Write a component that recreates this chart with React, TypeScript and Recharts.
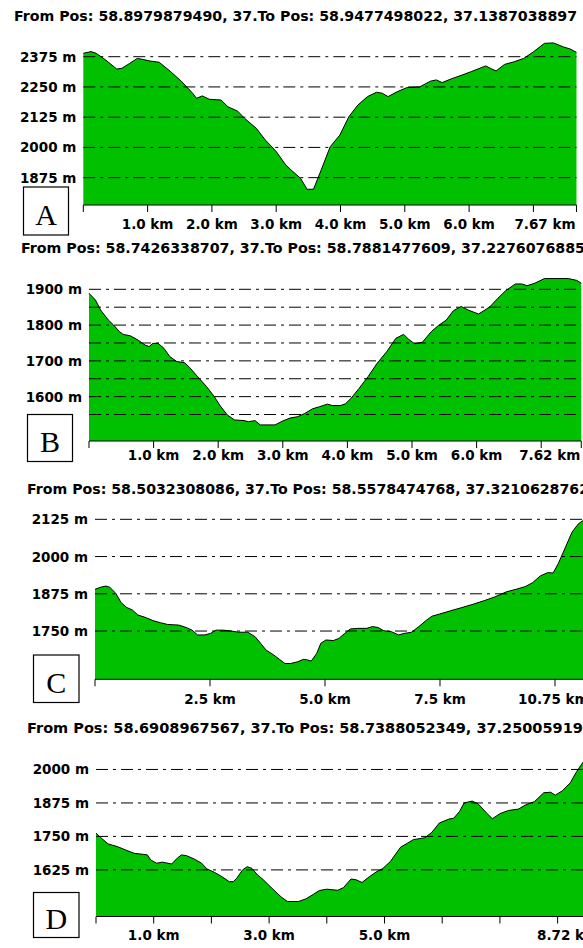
import { AreaChart, Area, XAxis, YAxis, ReferenceLine } from 'recharts';

const FONT = '"DejaVu Sans", Verdana, sans-serif';
const GREEN = '#00c000';
const DASH = '12 5 3 5';
const CHART_W = 640;

// Profile A
const kmA = [0, 0.12, 0.2, 0.35, 0.52, 0.6, 0.72, 0.84, 0.92, 1.04, 1.18, 1.36, 1.53, 1.7, 1.76, 1.85, 1.96, 2.14, 2.25, 2.4, 2.51, 2.69, 2.83, 3.0, 3.15, 3.26, 3.38, 3.48, 3.58, 3.7, 3.84, 3.99, 4.13, 4.27, 4.42, 4.56, 4.65, 4.74, 4.88, 5.03, 5.23, 5.4, 5.49, 5.58, 5.72, 5.89, 6.04, 6.26, 6.33, 6.42, 6.55, 6.7, 6.85, 7.0, 7.17, 7.31, 7.47, 7.57, 7.67];
const elevA = [2389, 2396, 2389, 2361, 2324, 2327, 2347, 2368, 2364, 2357, 2352, 2313, 2272, 2224, 2203, 2213, 2199, 2196, 2168, 2150, 2120, 2079, 2031, 1983, 1927, 1900, 1872, 1827, 1827, 1907, 2003, 2051, 2127, 2175, 2210, 2228, 2224, 2210, 2230, 2247, 2250, 2274, 2279, 2268, 2283, 2299, 2314, 2337, 2327, 2316, 2343, 2354, 2368, 2395, 2430, 2432, 2415, 2407, 2393];

// Profile B
const kmB = [0, 0.1, 0.18, 0.3, 0.38, 0.47, 0.53, 0.64, 0.76, 0.87, 0.93, 0.99, 1.07, 1.16, 1.25, 1.36, 1.48, 1.56, 1.68, 1.82, 1.94, 2.02, 2.14, 2.25, 2.4, 2.47, 2.57, 2.65, 2.88, 3.0, 3.11, 3.23, 3.34, 3.46, 3.57, 3.69, 3.77, 3.89, 3.97, 4.06, 4.18, 4.32, 4.46, 4.61, 4.75, 4.87, 4.95, 5.04, 5.16, 5.3, 5.41, 5.53, 5.64, 5.76, 5.87, 6.03, 6.13, 6.21, 6.33, 6.45, 6.6, 6.7, 6.78, 6.9, 7.05, 7.42, 7.55, 7.62];
const elevB = [1889, 1870, 1842, 1814, 1800, 1782, 1774, 1770, 1758, 1744, 1740, 1749, 1749, 1735, 1712, 1698, 1695, 1681, 1656, 1628, 1600, 1577, 1549, 1535, 1533, 1530, 1533, 1521, 1521, 1532, 1540, 1544, 1553, 1566, 1572, 1579, 1575, 1575, 1580, 1596, 1623, 1656, 1693, 1726, 1763, 1774, 1760, 1748, 1752, 1782, 1799, 1814, 1840, 1852, 1842, 1831, 1842, 1852, 1875, 1896, 1915, 1915, 1910, 1917, 1930, 1930, 1925, 1917];

// Profile C
const kmC = [0, 0.12, 0.24, 0.32, 0.45, 0.57, 0.69, 0.81, 0.93, 1.09, 1.26, 1.42, 1.58, 1.82, 1.98, 2.11, 2.23, 2.39, 2.51, 2.63, 2.79, 2.96, 3.12, 3.32, 3.48, 3.6, 3.72, 3.89, 4.01, 4.13, 4.25, 4.41, 4.53, 4.62, 4.7, 4.82, 4.91, 5.02, 5.18, 5.3, 5.43, 5.55, 5.71, 5.91, 6.03, 6.15, 6.28, 6.44, 6.6, 6.72, 6.88, 7.04, 7.21, 7.33, 7.49, 7.73, 7.98, 8.22, 8.46, 8.7, 8.95, 9.15, 9.35, 9.51, 9.68, 9.84, 9.96, 10.07, 10.23, 10.37, 10.51, 10.6, 10.75];
const elevC = [1890, 1897, 1901, 1897, 1877, 1845, 1829, 1821, 1804, 1796, 1785, 1778, 1772, 1770, 1762, 1753, 1737, 1737, 1742, 1753, 1753, 1750, 1746, 1746, 1731, 1709, 1686, 1669, 1655, 1641, 1641, 1647, 1655, 1653, 1649, 1675, 1709, 1720, 1718, 1725, 1742, 1757, 1759, 1759, 1765, 1762, 1751, 1748, 1737, 1742, 1746, 1765, 1787, 1800, 1807, 1818, 1829, 1840, 1852, 1865, 1882, 1890, 1899, 1912, 1935, 1946, 1945, 1976, 2032, 2082, 2110, 2120, 2130];

// Profile D
const kmD = [0, 0.08, 0.21, 0.37, 0.53, 0.66, 0.82, 0.89, 0.95, 1.05, 1.15, 1.31, 1.41, 1.48, 1.57, 1.7, 1.83, 1.92, 2.05, 2.18, 2.31, 2.38, 2.44, 2.54, 2.62, 2.7, 2.8, 2.9, 2.99, 3.12, 3.22, 3.32, 3.51, 3.64, 3.77, 3.87, 4.0, 4.19, 4.29, 4.42, 4.51, 4.61, 4.74, 4.87, 4.97, 5.1, 5.28, 5.4, 5.5, 5.7, 5.82, 5.95, 6.12, 6.2, 6.3, 6.38, 6.52, 6.62, 6.78, 6.87, 7.0, 7.15, 7.32, 7.45, 7.6, 7.76, 7.88, 7.96, 8.08, 8.22, 8.33, 8.45, 8.58, 8.72];
const elevD = [1762, 1746, 1722, 1712, 1698, 1687, 1683, 1681, 1662, 1650, 1654, 1647, 1669, 1681, 1678, 1666, 1650, 1629, 1616, 1600, 1581, 1581, 1594, 1625, 1637, 1631, 1606, 1588, 1569, 1542, 1522, 1507, 1507, 1517, 1534, 1548, 1553, 1549, 1559, 1591, 1588, 1578, 1600, 1619, 1630, 1656, 1710, 1725, 1738, 1745, 1765, 1800, 1815, 1818, 1843, 1875, 1882, 1872, 1835, 1816, 1835, 1847, 1852, 1868, 1880, 1913, 1915, 1904, 1920, 1950, 1992, 2030, 2055, 2075];

// axis ticks and labels
const yTicksA = [1875, 2000, 2125, 2250, 2375];
const yTicksB = [1600, 1700, 1800, 1900];
const gridB = [1550, 1600, 1650, 1700, 1750, 1800, 1850, 1900];
const yTicksC = [1750, 1875, 2000, 2125];
const yTicksD = [1625, 1750, 1875, 2000];
const xTicksA = [0, 1, 2, 3, 4, 5, 6, 7, 7.67];
const xTicksB = [0, 1, 2, 3, 4, 5, 6, 7, 7.62];
const xTicksC = [0, 2.5, 5, 7.5, 10, 10.75];
const xTicksD = [0, 1, 2, 3, 4, 5, 6, 7, 8, 8.72];
const xLabelsA = [1, 2, 3, 4, 5, 6];
const xLabelsB = [1, 2, 3, 4, 5, 6];
const xLabelsC = [2.5, 5, 7.5];
const xLabelsD = [1, 3, 5];

const titles = [
  'From Pos: 58.8979879490, 37.To Pos: 58.9477498022, 37.1387038897',
  'From Pos: 58.7426338707, 37.To Pos: 58.7881477609, 37.2276076885',
  'From Pos: 58.5032308086, 37.To Pos: 58.5578474768, 37.3210628762',
  'From Pos: 58.6908967567, 37.To Pos: 58.7388052349, 37.2500591992',
];
const letters = ['A', 'B', 'C', 'D'];

const zip = (km: number[], elev: number[]) => km.map((k, i) => ({ km: k, elev: elev[i] }));

interface PanelProps {
  data: { km: number; elev: number }[];
  plotTop: number;
  plotBottom: number;
  plotLeft: number;
  total: number;
  pxPerKm: number;
  yDomain: [number, number];
  yTicks: number[];
  grid: number[];
  xTicks: number[];
  xLabels: number[];
  labelY: number;
}

function Panel(p: PanelProps) {
  const chartTop = p.plotTop - 15;
  const chartBottom = p.plotBottom + 35;
  const plotRight = p.plotLeft + p.total * p.pxPerKm;

  const XTick = ({ x, payload }: any) => {
    const v = payload.value;
    const ly = p.labelY - chartTop + 5;
    if (v === p.total) {
      return <text x={x - 1} y={ly} textAnchor="end" fontFamily={FONT} fontWeight="bold" fontSize={13.5} fill="#000">{`${v} km`}</text>;
    }
    if (!p.xLabels.includes(v)) return <g />;
    return <text x={x} y={ly} textAnchor="middle" fontFamily={FONT} fontWeight="bold" fontSize={13.5} fill="#000">{`${v.toFixed(1)} km`}</text>;
  };

  const YTick = ({ y, payload }: any) => (
    <text x={p.plotLeft - 7} y={y + 5} textAnchor="end" fontFamily={FONT} fontWeight="bold" fontSize={13.5} fill="#000">{`${payload.value} m`}</text>
  );

  return (
    <div style={{ position: 'absolute', left: 0, top: chartTop }}>
      <AreaChart
        width={CHART_W}
        height={chartBottom - chartTop}
        data={p.data}
        margin={{ top: p.plotTop - chartTop, right: CHART_W - plotRight, bottom: 0, left: 0 }}
      >
        <XAxis
          dataKey="km"
          type="number"
          domain={[0, p.total]}
          ticks={p.xTicks}
          interval={0}
          height={chartBottom - p.plotBottom}
          axisLine={{ stroke: '#000' }}
          tickLine={{ stroke: '#000' }}
          tickSize={7}
          tick={<XTick />}
        />
        <YAxis
          type="number"
          domain={p.yDomain}
          allowDataOverflow
          ticks={p.yTicks}
          width={p.plotLeft}
          axisLine={false}
          tickLine={false}
          tick={<YTick />}
        />
        <Area
          type="linear"
          dataKey="elev"
          stroke="#000"
          strokeWidth={1}
          fill={GREEN}
          fillOpacity={1}
          dot={false}
          activeDot={false}
          isAnimationActive={false}
        />
        {p.grid.map((g) => (
          <ReferenceLine key={g} y={g} stroke="#000" strokeWidth={1} strokeDasharray={DASH} zIndex={600} />
        ))}
      </AreaChart>
    </div>
  );
}

const boxes = [
  { x: 23.5, y: 187, w: 45, h: 48, base: 225 },
  { x: 27.5, y: 414.5, w: 45, h: 47, base: 452 },
  { x: 33.5, y: 655, w: 45.5, h: 47.5, base: 693 },
  { x: 33.5, y: 892.5, w: 45.5, h: 45, base: 928.5 },
];
// title start, baseline and drawn width
const titlePos = [
  { x: 14, y: 20.5, w: 563 },
  { x: 21, y: 253, w: 564 },
  { x: 27, y: 494, w: 562 },
  { x: 27, y: 733, w: 576 },
];

export default function App() {
  return (
    <div style={{ position: 'absolute', left: 0, top: 0, width: 583, height: 948, overflow: 'hidden', background: '#fff' }}>
      <Panel data={zip(kmA, elevA)} plotTop={40} plotBottom={205} plotLeft={83.3} total={7.67} pxPerKm={64.3}
        yDomain={[1762, 2444]} yTicks={yTicksA} grid={yTicksA} xTicks={xTicksA} xLabels={xLabelsA} labelY={224} />
      <Panel data={zip(kmB, elevB)} plotTop={275} plotBottom={441} plotLeft={89} total={7.62} pxPerKm={64.6}
        yDomain={[1476, 1940]} yTicks={yTicksB} grid={gridB} xTicks={xTicksB} xLabels={xLabelsB} labelY={455} />
      <Panel data={zip(kmC, elevC)} plotTop={508} plotBottom={679.3} plotLeft={95} total={10.75} pxPerKm={46}
        yDomain={[1588, 2163]} yTicks={yTicksC} grid={yTicksC} xTicks={xTicksC} xLabels={xLabelsC} labelY={699} />
      <Panel data={zip(kmD, elevD)} plotTop={740} plotBottom={916.5} plotLeft={96} total={8.72} pxPerKm={57.7}
        yDomain={[1451, 2110]} yTicks={yTicksD} grid={yTicksD} xTicks={xTicksD} xLabels={xLabelsD} labelY={935} />
      <svg width={583} height={948} style={{ position: 'absolute', left: 0, top: 0, pointerEvents: 'none' }}>
        {titles.map((t, i) => (
          <text key={t} x={titlePos[i].x} y={titlePos[i].y} textLength={titlePos[i].w} lengthAdjust="spacingAndGlyphs"
            fontFamily={FONT} fontWeight="bold" fontSize={14} fill="#000">{t}</text>
        ))}
        {boxes.map((b, i) => (
          <g key={letters[i]}>
            <rect x={b.x} y={b.y} width={b.w} height={b.h} fill="#fff" stroke="#000" strokeWidth={1.2} />
            <text x={b.x + b.w / 2} y={b.base} textAnchor="middle" fontFamily='"Liberation Serif", "Times New Roman", serif' fontSize={30} fill="#000">{letters[i]}</text>
          </g>
        ))}
      </svg>
    </div>
  );
}
